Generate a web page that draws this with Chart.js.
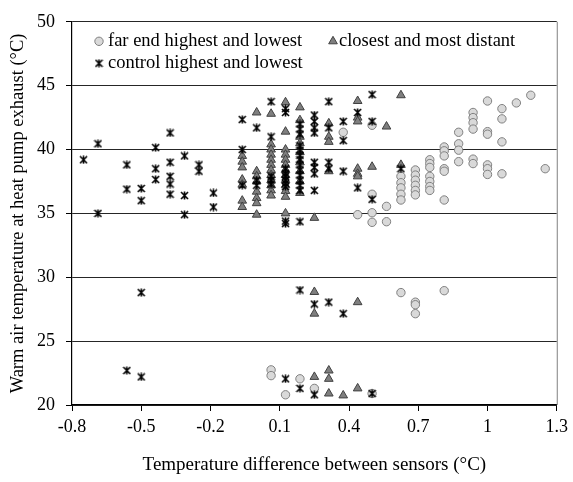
<!DOCTYPE html>
<html>
<head>
<meta charset="utf-8">
<script src="https://cdn.jsdelivr.net/npm/chart.js@4.4.1/dist/chart.umd.min.js"></script>
<style>
  html, body { margin: 0; padding: 0; background: #fff; }
</style>
</head>
<body>
<canvas id="grafica" width="573" height="482"></canvas>
<script>
// valores (x = diferencia entre sensores, y = temperatura)
const farEndX = [0.0625, 0.0625, 0.125, 0.1875, 0.25, 0.5,
    0.625, 0.6875, 0.6875, 0.6875, 0.8125,
    0.375, 0.5, 0.4375, 0.5, 0.5, 0.5, 0.5625, 0.5625,
    0.625, 0.625, 0.625, 0.625, 0.625,
    0.6875, 0.6875, 0.6875, 0.6875, 0.6875, 0.6875,
    0.75, 0.75, 0.75, 0.75, 0.75, 0.75, 0.75,
    0.8125, 0.8125, 0.8125, 0.8125, 0.8125, 0.8125,
    0.875, 0.875, 0.875, 0.875,
    0.9375, 0.9375, 0.9375, 0.9375, 0.9375, 0.9375,
    1, 1, 1, 1, 1, 1,
    1.0625, 1.0625, 1.0625, 1.0625,
    1.125, 1.1875, 1.25];
const farEndY = [22.75, 22.3, 20.8, 22.05, 21.3, 20.9,
    28.8, 28.05, 27.85, 27.15, 28.95,
    41.35, 41.9, 34.9, 36.5, 35.05, 34.3, 35.55, 34.35,
    37.9, 37.4, 37.0, 36.5, 36.05,
    38.4, 38.0, 37.6, 37.2, 36.8, 36.45,
    39.2, 38.9, 38.6, 37.9, 37.5, 37.1, 36.8,
    40.2, 39.9, 39.5, 38.5, 38.3, 36.05,
    41.35, 40.45, 39.95, 39.05,
    42.9, 42.5, 42.1, 41.6, 39.25, 38.9,
    43.8, 41.4, 41.2, 38.8, 38.5, 38.05,
    43.2, 42.4, 40.6, 38.1,
    43.65, 44.25, 38.5];

const closestX = [0.25, 0.3125, 0.3125, 0.3125, 0.375, 0.4375,
    0.25, 0.25, 0.4375,
    -0.0625, -0.0625, -0.0625, -0.0625, -0.0625, -0.0625, -0.0625,
    0, 0, 0, 0, 0, 0, 0, 0,
    0.0625, 0.0625, 0.0625, 0.0625, 0.0625, 0.0625, 0.0625, 0.0625, 0.0625, 0.0625, 0.0625, 0.0625,
    0.125, 0.125, 0.125, 0.125, 0.125, 0.125, 0.125, 0.125, 0.125, 0.125, 0.125, 0.125, 0.125,
    0.1875, 0.1875, 0.1875, 0.1875, 0.1875, 0.1875, 0.1875, 0.1875, 0.1875,
    0.25,
    0.3125, 0.3125, 0.3125, 0.3125,
    0.4375, 0.4375, 0.4375, 0.4375, 0.4375, 0.4375,
    0.5, 0.5625, 0.625, 0.625];
const closestY = [22.2, 22.7, 22.05, 20.9, 20.75, 21.3,
    28.85, 27.15, 28.05,
    39.5, 39.05, 38.6, 37.65, 37.25, 36.0, 35.5,
    42.9, 38.3, 37.9, 37.5, 36.7, 36.2, 35.8, 34.9,
    42.8, 40.4, 40.0, 39.6, 39.2, 38.8, 38.4, 38.0, 37.6, 37.2, 36.8, 36.4,
    43.7, 41.4, 40.0, 39.6, 39.2, 38.8, 38.4, 38.0, 37.6, 37.2, 36.75, 36.3, 35.0,
    43.3, 42.3, 41.0, 40.5, 39.8, 39.0, 38.3, 37.5, 36.6,
    34.65,
    42.05, 41.0, 40.6, 38.3,
    43.8, 42.5, 42.2, 38.5, 38.1, 37.9,
    38.65, 41.8, 44.25, 38.8];

const controlX = [-0.5625, -0.5, 0.125, 0.1875, 0.25, 0.5,
    -0.5, 0.1875, 0.25, 0.3125, 0.375,
    -0.75, -0.6875, -0.6875, -0.5625, -0.5625, -0.5, -0.5,
    -0.4375, -0.4375, -0.4375,
    -0.375, -0.375, -0.375, -0.375, -0.375,
    -0.3125, -0.3125, -0.3125, -0.25, -0.25, -0.1875, -0.1875,
    -0.0625, -0.0625, -0.0625, 0, 0, 0,
    0.0625, 0.0625, 0.0625, 0.0625, 0.0625,
    0.125, 0.125, 0.125, 0.125, 0.125, 0.125, 0.125, 0.125, 0.125, 0.125,
    0.1875, 0.1875, 0.1875, 0.1875, 0.1875, 0.1875, 0.1875, 0.1875, 0.1875, 0.1875, 0.1875, 0.1875, 0.1875, 0.1875,
    0.25, 0.25, 0.25, 0.25, 0.25, 0.25, 0.25, 0.25,
    0.3125, 0.3125, 0.3125, 0.3125,
    0.375, 0.375, 0.375, 0.4375, 0.4375,
    0.5, 0.5, 0.5, 0.625];
const controlY = [22.7, 22.2, 22.05, 21.3, 20.8, 20.9,
    28.8, 29.0, 27.9, 28.05, 27.15,
    39.2, 40.45, 35.0, 38.8, 36.9, 36.95, 36.0,
    40.15, 38.5, 37.65,
    41.3, 39.0, 37.9, 37.3, 36.5,
    39.5, 36.4, 34.9, 38.8, 38.3, 36.6, 35.5,
    42.35, 40.0, 37.2, 41.7, 37.6, 37.2,
    43.75, 41.0, 37.9, 37.6, 37.3,
    43.2, 42.9, 38.5, 38.1, 37.9, 37.6, 37.35, 37.1, 34.4, 34.2,
    42.0, 41.6, 41.2, 40.3, 39.95, 39.55, 39.2, 38.8, 38.4, 38.0, 37.6, 37.2, 36.8, 34.35,
    42.7, 42.2, 41.7, 41.3, 39.0, 38.6, 38.1, 36.8,
    43.75, 41.7, 39.0, 38.5,
    42.2, 40.7, 38.3, 42.9, 37.0,
    44.3, 42.2, 36.1, 38.5];

const xTicks = [-0.8, -0.5, -0.2, 0.1, 0.4, 0.7, 1, 1.3];
const yTicks = [20, 25, 30, 35, 40, 45, 50];
const seriesNames = ['far end highest and lowest', 'closest and most distant', 'control highest and lowest'];

const fuente = "'Liberation Serif', 'Times New Roman', serif";

function puntos(xs, ys) {
    return xs.map((x, i) => ({ x: x, y: ys[i] }));
}

// marcador tipo "x" con linea vertical (como el de Excel)
function marcadorControl() {
    const c = document.createElement('canvas');
    c.width = 9; c.height = 9;
    const g = c.getContext('2d');
    g.strokeStyle = '#000';
    g.lineWidth = 1.6;
    g.beginPath();
    g.moveTo(1, 1); g.lineTo(8, 8);
    g.moveTo(8, 1); g.lineTo(1, 8);
    g.moveTo(4.5, 0.5); g.lineTo(4.5, 8.5);
    g.stroke();
    return c;
}
const estrella = marcadorControl();

// leyenda dentro del area, en dos filas
const leyendaInterna = {
    id: 'leyendaInterna',
    afterDraw(chart) {
        const ctx = chart.ctx;
        const a = chart.chartArea;
        const sitios = [
            { ds: 0, x: 27, y: 19.5, tx: 36 },
            { ds: 1, x: 261, y: 19.5, tx: 267 },
            { ds: 2, x: 27, y: 41.5, tx: 36 }
        ];
        ctx.save();
        sitios.forEach(s => {
            const d = chart.data.datasets[s.ds];
            ctx.fillStyle = d.backgroundColor;
            ctx.strokeStyle = d.borderColor;
            ctx.lineWidth = d.borderWidth;
            Chart.helpers.drawPoint(ctx, {
                pointStyle: d.pointStyle, radius: d.pointRadius,
                borderWidth: d.borderWidth, rotation: 0
            }, a.left + s.x, a.top + s.y);
            ctx.fillStyle = '#000';
            ctx.font = '18.5px ' + fuente;
            ctx.textBaseline = 'middle';
            ctx.textAlign = 'left';
            ctx.fillText(d.label, a.left + s.tx, a.top + s.y);
        });
        // borde derecho gris
        ctx.strokeStyle = '#808080';
        ctx.lineWidth = 1;
        ctx.beginPath();
        ctx.moveTo(a.right + 0.5, a.top);
        ctx.lineTo(a.right + 0.5, a.bottom);
        ctx.stroke();
        ctx.restore();
    }
};

Chart.defaults.font.family = fuente;
Chart.defaults.font.size = 18;
Chart.defaults.color = '#000';

new Chart(document.getElementById('grafica'), {
    type: 'scatter',
    data: {
        datasets: [{
            label: seriesNames[0],
            data: puntos(farEndX, farEndY),
            pointStyle: 'circle',
            pointRadius: 4.2,
            backgroundColor: '#d9d9d9',
            borderColor: '#808080',
            borderWidth: 1,
            order: 3
        }, {
            label: seriesNames[1],
            data: puntos(closestX, closestY),
            pointStyle: 'triangle',
            pointRadius: 5,
            backgroundColor: '#7f7f7f',
            borderColor: '#404040',
            borderWidth: 1,
            order: 2
        }, {
            label: seriesNames[2],
            data: puntos(controlX, controlY),
            pointStyle: estrella,
            pointRadius: 4.5,
            backgroundColor: '#000',
            borderColor: '#000',
            borderWidth: 1,
            order: 1
        }]
    },
    options: {
        responsive: false,
        animation: false,
        devicePixelRatio: 1,
        layout: { padding: { top: 18, right: 14, left: 0, bottom: 0 } },
        plugins: {
            legend: { display: false },
            tooltip: { enabled: false }
        },
        scales: {
            x: {
                type: 'linear',
                min: -0.8,
                max: 1.3,
                afterFit: s => { s.height = 77; },
                afterBuildTicks: s => { s.ticks = xTicks.map(v => ({ value: v })); },
                ticks: {
                    padding: 5,
                    maxRotation: 0,
                    callback: v => String(v)
                },
                grid: {
                    drawOnChartArea: false,
                    tickLength: 6,
                    tickColor: '#000'
                },
                border: { color: '#000', width: 1.2 },
                title: {
                    display: true,
                    text: 'Temperature difference between sensors (°C)',
                    font: { size: 19 },
                    padding: { top: 0, bottom: 6 }
                }
            },
            y: {
                min: 20,
                max: 50,
                afterFit: s => { s.width = 72; },
                afterBuildTicks: s => { s.ticks = yTicks.map(v => ({ value: v })); },
                ticks: { padding: 11 },
                grid: {
                    color: '#262626',
                    lineWidth: 1,
                    tickLength: 6,
                    tickColor: '#000'
                },
                border: { color: '#000', width: 1.2 },
                title: {
                    display: true,
                    text: 'Warm air temperature at heat pump exhaust (°C)',
                    font: { size: 18.5 },
                    padding: { top: 7, bottom: 0 }
                }
            }
        }
    },
    plugins: [leyendaInterna]
});
</script>
</body>
</html>
